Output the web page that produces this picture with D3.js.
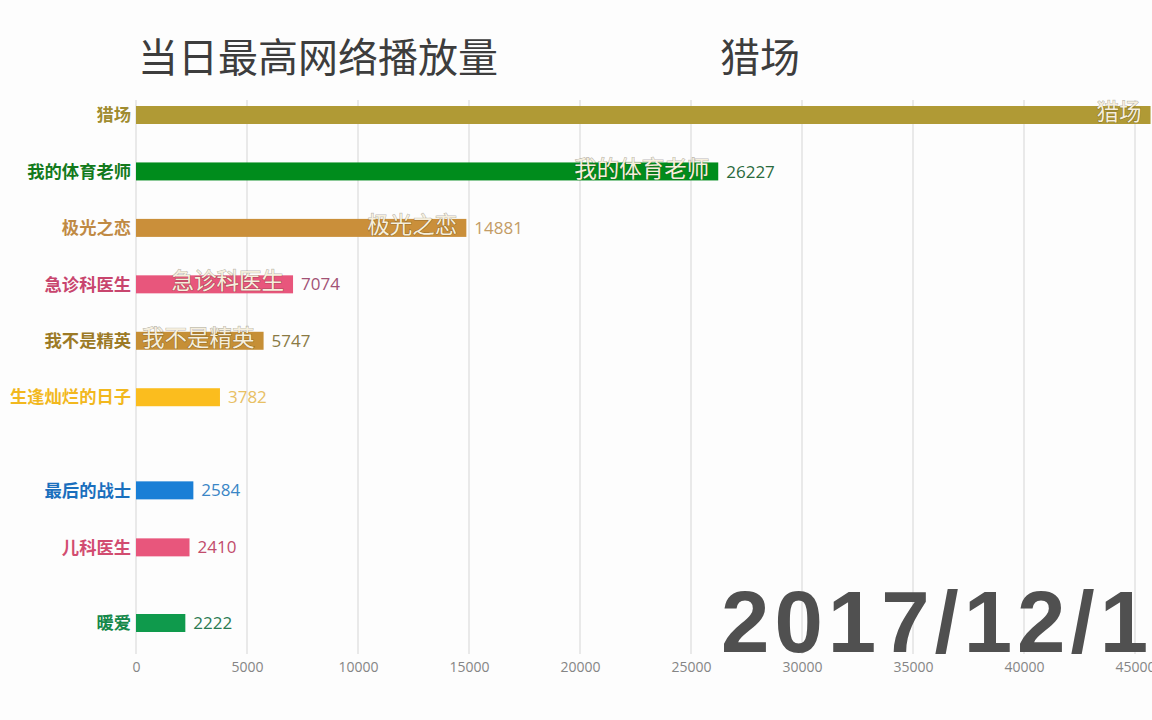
<!DOCTYPE html>
<html><head><meta charset="utf-8">
<script src="https://cdn.jsdelivr.net/npm/d3@7"></script>
<style>
html,body{margin:0;padding:0;background:#fdfdfd;}
svg{display:block;}
</style></head>
<body>
<svg id="chart" width="1152" height="720"></svg>
<script>
// ---- data ----
const titleText = "当日最高网络播放量";
const leaderText = "猎场";
const dateText = "2017/12/1";
const names = ["猎场","我的体育老师","极光之恋","急诊科医生","我不是精英","生逢灿烂的日子","最后的战士","儿科医生","暖爱"];
const values = [45700, 26227, 14881, 7074, 5747, 3782, 2584, 2410, 2222];
// rank positions in this animation frame (fractional while bars move)
const ranks = [0, 1, 2, 3, 4, 5, 6.65, 7.66, 9];
const barColors = ["#b09a35","#008c1c","#ca8f3a","#e8567c","#c68f36","#fbbd1e","#1a7fd6","#e8567c","#0f9a4c"];
const nameColors = ["#a08c30","#137a1c","#c08a44","#c8456e","#9c7a26","#f2b81e","#1a6fbd","#d24c70","#14884a"];
const valueColors = ["#a08c30","#2a6a3c","#c39c66","#a25275","#8a7a44","#e8c064","#3a86c6","#c24c6c","#2a7a52"];
const tickValues = [0,5000,10000,15000,20000,25000,30000,35000,40000,45000];

// ---- layout ----
const svg = d3.select("#chart");
const x = d3.scaleLinear().domain([0, 45000]).range([136, 1135]);
const y = d3.scaleLinear().domain([0, 9]).range([115, 623]);
const barH = 18;

// gridlines
svg.append("g").selectAll("line").data(tickValues).join("line")
  .attr("x1", d => x(d)).attr("x2", d => x(d))
  .attr("y1", 100).attr("y2", 654)
  .attr("stroke", "#e2e2e2").attr("stroke-width", 1.5);

// axis labels
const axis = d3.axisBottom(x).tickValues(tickValues).tickFormat(d3.format("d")).tickSize(0).tickPadding(0);
const gAxis = svg.append("g").attr("transform", "translate(0,662)").call(axis);
gAxis.select(".domain").remove();
gAxis.selectAll("text").attr("font-family", "'Open Sans','Noto Sans',sans-serif")
  .attr("font-size", 14).attr("fill", "#858585");

// date watermark
svg.append("text").text(dateText)
  .attr("x", 721).attr("y", 652)
  .attr("font-family", "'Liberation Sans',Arial,sans-serif")
  .attr("font-weight", "bold").attr("font-size", 87)
  .attr("letter-spacing", 5)
  .attr("fill", "#505050");

const items = names.map((n, i) => ({name: n, value: values[i], rank: ranks[i], c: barColors[i], nc: nameColors[i], vc: valueColors[i]}));

// bars
svg.append("g").selectAll("rect").data(items).join("rect")
  .attr("x", x(0)).attr("y", d => y(d.rank) - barH / 2)
  .attr("width", d => x(d.value) - x(0)).attr("height", barH)
  .attr("fill", d => d.c);

// left name labels
svg.append("g").selectAll("text").data(items).join("text")
  .attr("x", 131).attr("y", d => y(d.rank))
  .attr("dy", "0.36em").attr("text-anchor", "end")
  .attr("font-family", "'Noto Sans CJK SC',sans-serif").attr("font-weight", "bold")
  .attr("font-size", 17.3).attr("fill", d => d.nc)
  .text(d => d.name);

// value labels
svg.append("g").selectAll("text").data(items).join("text")
  .attr("x", d => x(d.value) + 8).attr("y", d => y(d.rank))
  .attr("dy", "0.36em")
  .attr("font-family", "'Open Sans','Noto Sans',sans-serif")
  .attr("font-size", 17).attr("fill", d => d.vc)
  .text(d => d.value);

// inner labels (shown when the bar is long enough)
const innerSize = 22.5;
svg.append("g").selectAll("text")
  .data(items.filter(d => x(d.value) - x(0) > Math.max(100, d.name.length * innerSize)))
  .join("text")
  .attr("x", d => Math.min(x(d.value), 1152) - 9).attr("y", d => y(d.rank) - 3)
  .attr("dy", "0.36em").attr("text-anchor", "end")
  .attr("font-family", "'Noto Sans CJK SC',sans-serif")
  .attr("font-size", innerSize).attr("fill", "#f6efdd")
  .attr("stroke", "rgba(60,50,20,0.35)").attr("stroke-width", 1.2)
  .attr("paint-order", "stroke")
  .text(d => d.name);

// title
svg.append("text").text(titleText)
  .attr("x", 138).attr("y", 72)
  .attr("font-family", "'Noto Sans CJK SC',sans-serif")
  .attr("font-size", 40).attr("fill", "#3d3d3d");
svg.append("text").text(leaderText)
  .attr("x", 720).attr("y", 72)
  .attr("font-family", "'Noto Sans CJK SC',sans-serif")
  .attr("font-size", 40).attr("fill", "#3d3d3d");
</script>
</body></html>
